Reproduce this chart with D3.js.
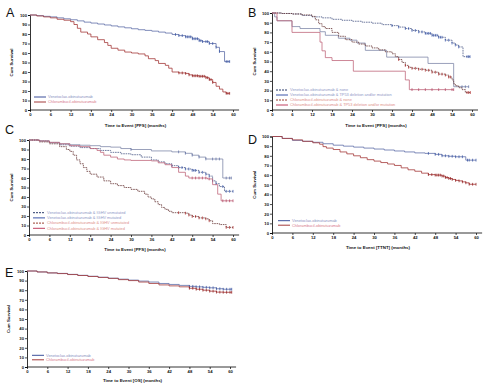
<!DOCTYPE html>
<html><head><meta charset="utf-8">
<script src="https://cdn.jsdelivr.net/npm/d3@7"></script>
<style>body{margin:0;background:#fff}svg{display:block}text{font-family:"Liberation Sans",Arial,sans-serif}</style>
</head><body><svg id="c" width="500" height="390"></svg>
<script>
// ---------- DATA ----------
const monthTicks = [0,6,12,18,24,30,36,42,48,54,60];
const survTicks = [0,10,20,30,40,50,60,70,80,90,100];
const panelLetters = ["A","B","C","D","E"];
const xTitles = ["Time to Event [PFS] (months)","Time to Event [PFS] (months)","Time to Event [PFS] (months)","Time to Event [TTNT] (months)","Time to Event [OS] (months)"];
const yTitle = "Cum Survival";
const legendA = ["Venetoclax-obinutuzumab","Chlorambucil-obinutuzumab"];
const legendB = ["Venetoclax-obinutuzumab & none","Venetoclax-obinutuzumab & TP53 deletion and/or mutation","Chlorambucil-obinutuzumab & none","Chlorambucil-obinutuzumab & TP53 deletion and/or mutation"];
const legendC = ["Venetoclax-obinutuzumab & IGHV unmutated","Venetoclax-obinutuzumab & IGHV mutated","Chlorambucil-obinutuzumab & IGHV unmutated","Chlorambucil-obinutuzumab & IGHV mutated"];
const legendD = ["Venetoclax-obinutuzumab","Chlorambucil-obinutuzumab"];
const legendE = ["Venetoclax-obinutuzumab","Chlorambucil-obinutuzumab"];

// Panel A (PFS)
const A_ven = [[0,100],[2,99.3],[4,98.6],[6,98],[8,97],[10,96],[12,95],[14,93.8],[16,92.5],[18,91.5],[20,90.5],[22,89.5],[24,88.5],[26,87.5],[28,86.5],[30,85.5],[32,84.5],[34,83.8],[36,83],[38,82],[40,81],[42,79.5],[44,78.3],[46,77],[48,75],[50,73],[51,72],[53,70],[55,66],[56,61.5],[57.5,51],[59,51]];
const A_venCens = [43,44,45,46,46.5,47,47.5,48,48.5,49,49.5,50,50.5,51,52,52.5,53,54,55,56,58,58.5,59];
const A_clb = [[0,100],[2,99],[4,98],[6,97],[8,95.5],[10,94.5],[12,93],[13,90],[14,86],[15,82],[17,80],[18,77],[20,74],[22,71],[23,68],[24,65],[26,63],[28,61],[30,60],[32,59],[34,57],[35,54],[37,52],[38,49],[40,47],[41,44],[42,40],[44,39],[46,38.5],[47,37],[48,36],[50,35.5],[52,34],[53,32],[54,29],[55,25],[56,22],[57,19],[58,17.5],[59,17.5]];
const A_clbCens = [44,45,46,47,48,48.5,49,49.5,50,50.5,51,51.5,52,52.5,53,53.5,54,58,58.5,59];

// Panel B (PFS by TP53)
const B_venNone = [[0,100],[3,99.5],[6,99],[9,97.5],[12,96],[15,95],[18,93.5],[21,92.5],[24,91.5],[27,90.5],[30,89.5],[33,88],[36,87],[38,85.5],[40,84],[42,82],[44,80.5],[46,79],[48,77],[50,75],[52,72],[54,69],[55,67],[56,65],[57.3,55],[59.4,55]];
const B_venNoneCens = [36,38,40,41,42,43,44,45,46,46.5,47,47.5,48,48.5,49,49.5,50,50.5,51,52,53,54,55,56,58.5,59,59.4];
const B_venTP53 = [[0,100],[0.8,96],[1.5,92],[6,86],[8.4,84],[14.4,80.7],[16,77],[19.9,74],[23.4,72],[25.5,69],[28,61.5],[34.4,54.5],[46.8,48],[54.5,24],[59,24]];
const B_venTP53Cens = [57,58,59];
const B_clbNone = [[0,100],[3,99.5],[6,99],[9,98],[12,96.5],[13,93],[14,89],[15,86],[16,84],[18,80],[20,76],[22,72.5],[24,70],[26,68],[28,66],[30,64],[32,62],[34,60],[36,58],[37,55],[38,52],[39,49],[40,46],[41,44],[42,43],[44,42],[46,41],[48,39],[50,37],[52,36],[53,34],[54,31],[54.5,27],[55,25],[56,23],[57,21],[58,18],[59.5,18]];
const B_clbNoneCens = [38,40,41,42,43,44,45,46,47,48,49,50,51,52,53,53.5,58.5,59,59.5];
const B_clbTP53 = [[0,100],[1.5,92],[6,80],[14.4,70],[15,61],[16,54],[18,51],[24.4,40],[40,31],[41.2,21],[54.5,21]];
const B_clbTP53Cens = [42,44,46,48,50,52,54,54.5];

// Panel C (PFS by IGHV)
const C_venUnmut = [[0,100],[3,99],[6,97],[9,95],[12,93.5],[15,92],[18,91],[21,89],[24,87],[27,85.5],[30,84.5],[33,82],[36,79],[38,77],[40,75],[42,73],[44,71],[46,69.5],[48,68],[50,66],[52,64],[53,62],[54,57],[55,54],[56,51],[57.5,46],[60,46]];
const C_venUnmutCens = [42,44,45,46,47,48,48.5,49,50,51,52,53,54,55,57,58,59,60];
const C_venMut = [[0,100],[3,99],[6,97.5],[9,96],[12,95],[15,94.5],[18,94],[21,93],[24,92.5],[27,91],[30,90],[36,88.5],[42,87.5],[46,86],[48,84],[50,82],[52,80],[57,60],[59.5,60]];
const C_venMutCens = [30,44,46,48,50,52,54,55,56,58,59,59.5];
const C_clbUnmut = [[0,100],[3,98],[6,96],[9,93],[11,90],[12,88],[13,84],[14,79],[15,75],[16,71],[17,67],[18,64],[20,61],[22,57],[24,54],[26,52],[28,50],[30,48],[32,46],[34,43],[35,40],[36,38],[37,35],[38,32],[39,29],[40,27],[41,25],[42,23.5],[46,23],[47,21],[48,19.5],[50,18],[52,17],[53,15],[54,12],[56,11],[58,8],[60,8]];
const C_clbUnmutCens = [44,46,47,48,49,50,51,52,53,58,59,60];
const C_clbMut = [[0,100],[3,99],[6,97.5],[9,96],[12,94],[15,93],[18,91],[20,89],[21,87],[22,84],[24,82],[26,80],[28,79],[30,78.5],[36,78],[38,76],[40,74],[42,71],[44,66],[46,62],[47,60],[52.5,59],[54,53],[55.5,43],[56.5,36],[60,36]];
const C_clbMutCens = [48,49,50,51,52,53,57,58,59,60];

// Panel D (TTNT)
const D_ven = [[0,100],[3,98],[6,96],[9,95],[12,94],[15,92.5],[18,91],[21,90],[24,89],[27,88],[30,87],[33,86],[36,85],[39,84],[42,83],[45,82.5],[48,81.5],[50,80],[52,79.5],[54,79],[56,79],[57,75.5],[60,75.5]];
const D_venCens = [46,48,49,50,51,52,53,54,55,56,57.5,58,59,60];
const D_clb = [[0,100],[3,98],[6,96.5],[9,95],[12,93.5],[14,92],[15,89.5],[16,88],[18,86.5],[20,84],[22,82],[24,80],[26,78],[28,76],[30,74.5],[32,73],[34,71.5],[36,70],[38,67.5],[40,65.5],[42,64],[44,62],[46,60.5],[48,60],[50,59],[51,57.5],[52,56.5],[53,55.5],[54,54.5],[55,54],[56,53],[57,52],[58,50.5],[60,50.5]];
const D_clbCens = [46,47,48,48.5,49,49.5,50,50.5,51,51.5,52,52.5,53,54,55,56,57,58,59,60];

// Panel E (OS)
const E_ven = [[0,100],[3,99],[6,98],[9,97.5],[12,96.5],[15,95.5],[18,94.5],[21,93.5],[24,92.5],[27,91.5],[30,90.5],[33,89.5],[36,88.5],[39,87],[42,86],[45,85],[48,84],[50,83.5],[52,83],[54,82.5],[56,81.5],[58,81],[60.5,81]];
const E_venCens = [48,49,50,51,52,53,54,55,56,57,58,59,60,60.5];
const E_clb = [[0,100],[3,99],[6,98],[9,97.3],[12,96.3],[15,95.3],[18,94.3],[21,93.3],[24,92.3],[27,91],[30,90],[33,88.5],[36,87],[39,85.5],[42,84.5],[45,83.5],[48,82],[50,81],[52,80],[54,79],[56,78],[58,77.8],[60.5,77.8]];
const E_clbCens = [48,49,50,51,52,53,54,55,56,57,58,59,60,60.5];

// ---------- STYLES / LAYOUT ----------
const sVenLine = {stroke:"#5f6fa8", dash:null, cens:"#2c4a9e"};
const sClbLine = {stroke:"#a43a3a", dash:null, cens:"#8e1515"};
const sVenDash = {stroke:"#4c5a88", dash:"1.6,0.8", cens:"#2f4fa8"};
const sVenSolid = {stroke:"#8089aa", dash:null, cens:"#5a6aa0"};
const sClbDash = {stroke:"#6a3a3a", dash:"1.6,0.8", cens:"#a81c1c"};
const sClbSolid = {stroke:"#c0687c", dash:null, cens:"#b04060"};

const legVen = {line:"#3b4f9a", text:"#8a90c0", dash:null};
const legClb = {line:"#a33a3a", text:"#d77a8c", dash:null};
const legVenDash = {line:"#2b3a6b", text:"#8f97c6", dash:"2,1"};
const legVenSolid = {line:"#3b55a8", text:"#8f97c6", dash:null};
const legClbDash = {line:"#9a4030", text:"#e0908a", dash:"2,1"};
const legClbSolid = {line:"#c04060", text:"#e0908a", dash:null};

const panels = [
  {x0:30, x60:233, y0:110, y100:15, letter:[6,17], titleY:127, yTitleX:13,
   series:[[A_ven,A_venCens,sVenLine],[A_clb,A_clbCens,sClbLine]],
   legend:{x:34,y:97,dy:5,items:legendA,styles:[legVen,legClb]}},
  {x0:272, x60:472, y0:110, y100:13, letter:[248,17], titleY:127, yTitleX:256,
   series:[[B_venNone,B_venNoneCens,sVenDash],[B_venTP53,B_venTP53Cens,sVenSolid],[B_clbNone,B_clbNoneCens,sClbDash],[B_clbTP53,B_clbTP53Cens,sClbSolid]],
   legend:{x:276,y:90,dy:5,items:legendB,styles:[legVenDash,legVenSolid,legClbDash,legClbSolid]}},
  {x0:29, x60:233, y0:235, y100:140, letter:[5,134], titleY:251, yTitleX:13,
   series:[[C_venUnmut,C_venUnmutCens,sVenDash],[C_venMut,C_venMutCens,sVenSolid],[C_clbUnmut,C_clbUnmutCens,sClbDash],[C_clbMut,C_clbMutCens,sClbSolid]],
   legend:{x:33,y:212.7,dy:5.2,items:legendC,styles:[legVenDash,legVenSolid,legClbDash,legClbSolid]}},
  {x0:272, x60:476, y0:233, y100:136.5, letter:[248,144], titleY:249, yTitleX:256,
   series:[[D_ven,D_venCens,sVenLine],[D_clb,D_clbCens,sClbLine]],
   legend:{x:278,y:220.7,dy:4.5,items:legendD,styles:[legVen,legClb]}},
  {x0:27, x60:230, y0:367, y100:271, letter:[5,277], titleY:382, yTitleX:10,
   series:[[E_ven,E_venCens,sVenLine],[E_clb,E_clbCens,sClbLine]],
   legend:{x:32,y:355.3,dy:4.5,items:legendE,styles:[legVen,legClb]}}
];

// ---------- DRAW ----------
const svg = d3.select("#c");
svg.append("rect").attr("width",500).attr("height",390).attr("fill","#fff");

function survAt(pts, t){ let s = pts[0][1]; for(const p of pts){ if(p[0] <= t) s = p[1]; else break; } return s; }

panels.forEach((P, i) => {
  const x = d3.scaleLinear().domain([0,60]).range([P.x0, P.x60]);
  const y = d3.scaleLinear().domain([0,100]).range([P.y0, P.y100]);
  const g = svg.append("g");

  // letter
  g.append("text").attr("x",P.letter[0]).attr("y",P.letter[1])
    .attr("font-size",12.5).attr("fill","#111").text(panelLetters[i]);

  // axes
  const xAx = d3.axisBottom(x).tickValues(monthTicks).tickSize(2).tickPadding(1.5).tickFormat(d3.format("d"));
  const yAx = d3.axisLeft(y).tickValues(survTicks).tickSize(2).tickPadding(1).tickFormat(d3.format("d"));
  const gx = g.append("g").attr("transform",`translate(0,${P.y0})`).call(xAx);
  const gy = g.append("g").attr("transform",`translate(${P.x0},0)`).call(yAx);
  gx.select(".domain").attr("d",`M${P.x0},0H${x(61.8)}`);
  [gx,gy].forEach(a=>{
    a.select(".domain").attr("stroke","#000").attr("stroke-width",0.8);
    a.selectAll(".tick line").attr("stroke","#000").attr("stroke-width",0.7);
    a.selectAll(".tick text").attr("font-size",4.2).attr("font-weight","bold").attr("fill","#111")
      .attr("font-family",'"Liberation Sans",Arial,sans-serif');
  });

  // titles
  g.append("text").attr("x",(P.x0+P.x60)/2+4).attr("y",P.titleY).attr("text-anchor","middle")
    .attr("font-size",4.4).attr("font-weight","bold").attr("fill","#111").text(xTitles[i]);
  g.append("text").attr("transform",`translate(${P.yTitleX},${(P.y0+P.y100)/2}) rotate(-90)`)
    .attr("text-anchor","middle").attr("font-size",4.4).attr("font-weight","bold").attr("fill","#111").text(yTitle);

  // curves
  const line = d3.line().x(d=>x(d[0])).y(d=>y(d[1])).curve(d3.curveStepAfter);
  P.series.forEach(([pts,cens,st])=>{
    g.append("path").datum(pts).attr("d",line).attr("fill","none")
      .attr("stroke",st.stroke).attr("stroke-width",0.8).attr("stroke-dasharray",st.dash);
    g.selectAll(null).data(cens).enter().append("line")
      .attr("x1",d=>x(d)).attr("x2",d=>x(d))
      .attr("y1",d=>y(survAt(pts,d))-1.4).attr("y2",d=>y(survAt(pts,d))+1.4)
      .attr("stroke",st.cens).attr("stroke-width",0.7);
  });

  // legend
  const L = P.legend;
  L.items.forEach((txt,k)=>{
    const st = L.styles[k], yy = L.y + k*L.dy;
    g.append("line").attr("x1",L.x).attr("x2",L.x+12).attr("y1",yy).attr("y2",yy)
      .attr("stroke",st.line).attr("stroke-width",1).attr("stroke-dasharray",st.dash);
    g.append("text").attr("x",L.x+14).attr("y",yy+1.3).attr("font-size",3.9)
      .attr("fill",st.text).text(txt);
  });
});
</script></body></html>
